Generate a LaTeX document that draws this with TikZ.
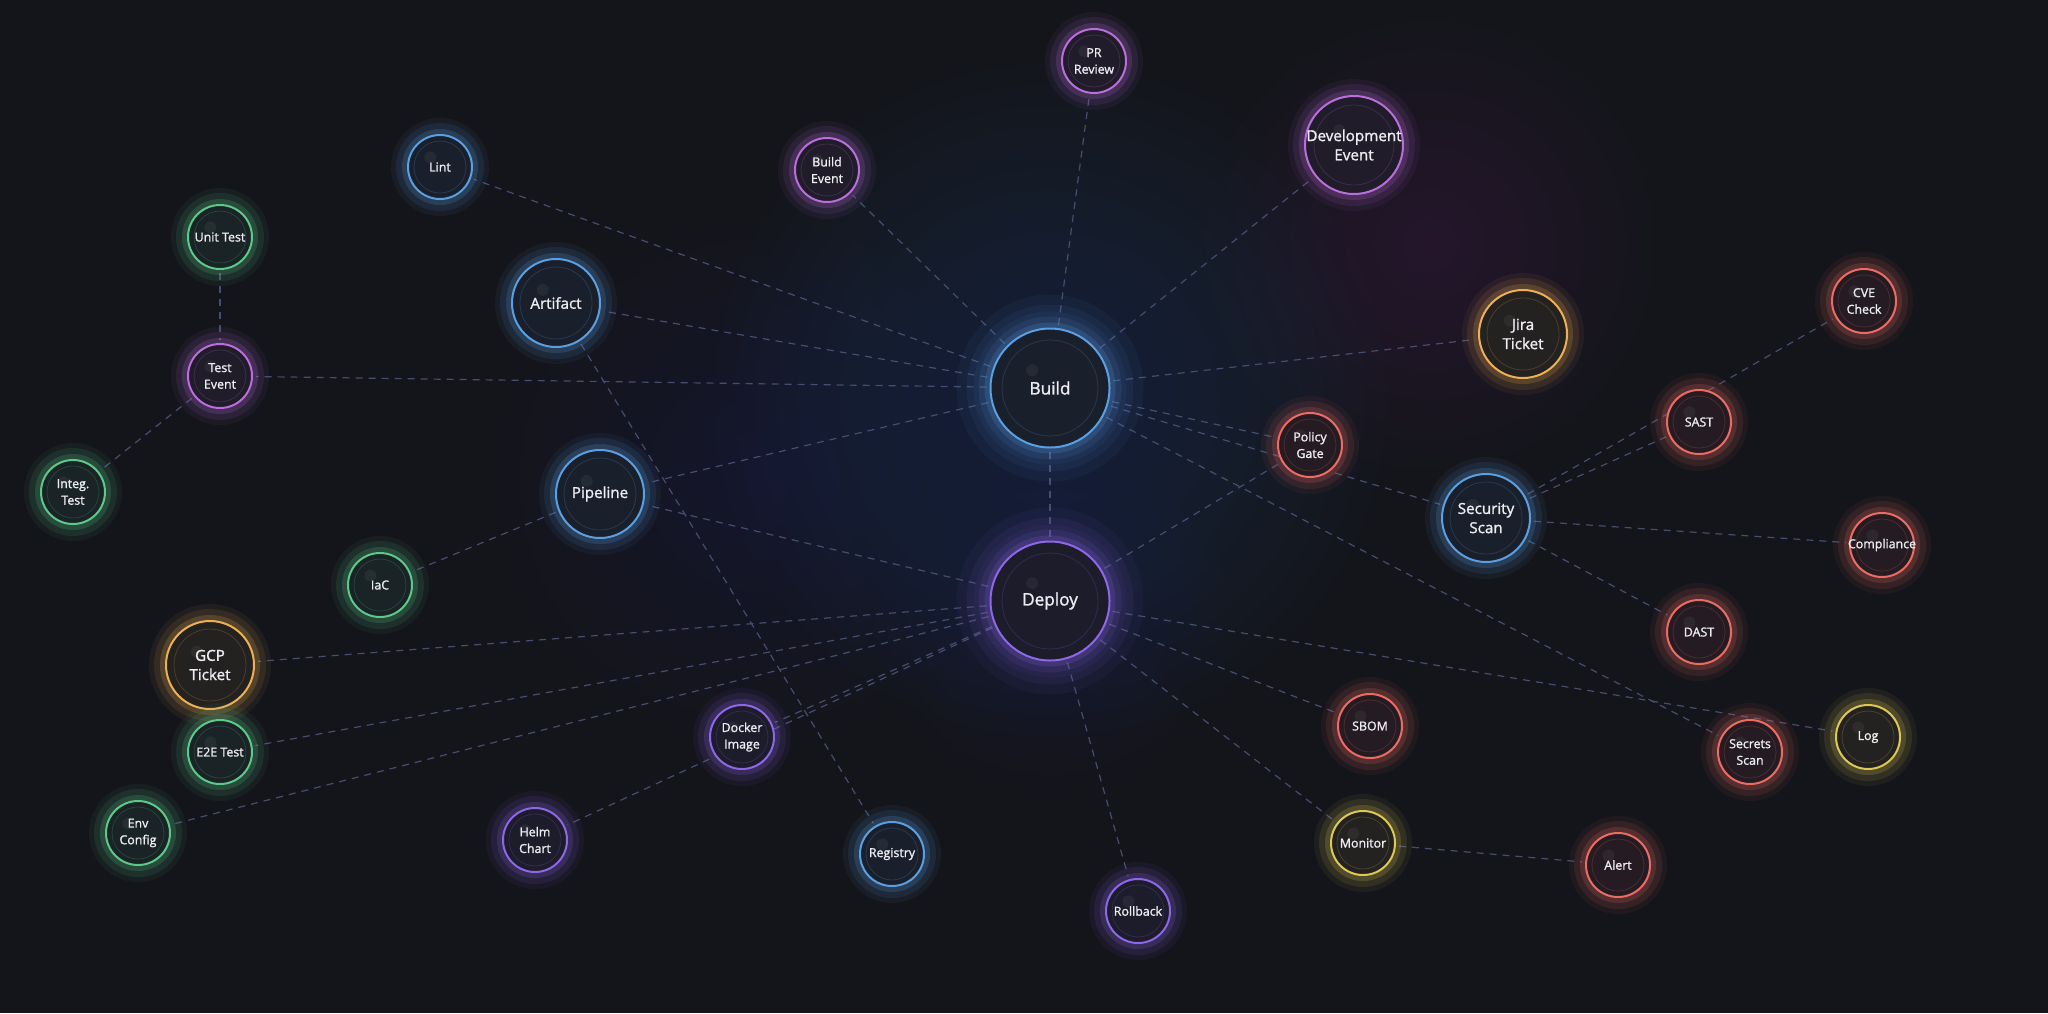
\documentclass[tikz,border=0pt]{standalone}
\usepackage{fontspec}
\setmainfont{Open Sans}
\newfontfamily\orbfont[FakeBold=1.4]{Open Sans}
\usetikzlibrary{calc}

\definecolor{bgc}{HTML}{14151B}
\definecolor{nodebg}{HTML}{15161D}
\definecolor{edgec}{HTML}{454D70}
\definecolor{txtc}{HTML}{ECECF2}
\definecolor{cblue}{HTML}{5B9FE3}
\definecolor{cevent}{HTML}{B96EDC}
\definecolor{cviolet}{HTML}{8E67E8}
\definecolor{cgreen}{HTML}{5CC98A}
\definecolor{corange}{HTML}{EDB052}
\definecolor{cred}{HTML}{EC6B63}
\definecolor{cyellow}{HTML}{DCC853}
\definecolor{hazeblue}{HTML}{2A5BB8}
\definecolor{hazeviolet}{HTML}{5636B0}
\definecolor{hazeplum}{HTML}{7A34A8}

\pgfdeclarelayer{bg}
\pgfdeclarelayer{edges}
\pgfsetlayers{bg,edges,main}

\tikzset{every picture/.style={line width=0.75pt}}
\tikzset{
  ring radius/.store in=\ringrad, ring radius=13pt,
  glow/.style={
    preaction={draw=#1, line width=17pt, opacity=.06},
    preaction={draw=#1, line width=12pt, opacity=.10},
    preaction={draw=#1, line width=6pt, opacity=.18}},
  hubglow/.style={
    preaction={draw=#1, line width=34pt, opacity=.05},
    preaction={draw=#1, line width=24pt, opacity=.07}},
  orb/.style={circle, draw=#1, line width=1pt, fill=#1!7!nodebg, glow=#1,
    text=txtc, align=center, inner sep=0pt, outer sep=2pt,
    path picture={
      \draw[#1, opacity=.2, line width=.4pt] (path picture bounding box.center) circle [radius=\ringrad];
      \fill[white, opacity=.05] ($(path picture bounding box.center)!.3!(path picture bounding box.north west)$) circle [radius=3pt];
    }},
  sm/.style={minimum size=32pt, ring radius=13pt, font=\orbfont\fontsize{6.2}{8.3}\selectfont},
  md/.style={minimum size=44pt, ring radius=18pt, font=\orbfont\fontsize{7.6}{9.6}\selectfont},
  lg/.style={minimum size=59.5pt, ring radius=24pt, font=\orbfont\fontsize{8.6}{10}\selectfont},
  link/.style={draw=edgec, line width=.6pt, dash pattern=on 3.5pt off 3pt},
}

\begin{document}
\begin{tikzpicture}[x=0.5pt,y=0.5pt,yscale=-1,xscale=1]
\useasboundingbox (0,0) rectangle (2048,1013);

%Background with soft glows
\begin{pgfonlayer}{bg}
\fill[bgc] (0,0) rectangle (2048,1013);
\foreach \k in {1,...,16} {
  \fill[hazeblue, opacity=.015] (1050,400) circle ({21*\k});
  \fill[hazeviolet, opacity=.007] (760,480) circle ({16*\k});
  \fill[hazeviolet, opacity=.008] (1050,610) circle ({11*\k});
  \fill[hazeplum, opacity=.010] (1430,245) circle ({14*\k});
  \fill[corange, opacity=.004] (320,690) circle ({13*\k});
  \fill[cred, opacity=.005] (1720,640) circle ({13*\k});
}
\end{pgfonlayer}

%Hubs
\node[orb=cblue, lg, hubglow=cblue] (build) at (1050,388) {Build};
\node[orb=cviolet, lg, hubglow=cviolet] (deploy) at (1050,601) {Deploy};

%Events and tickets
\node[orb=cevent, sm] (prreview) at (1094,61) {PR\\Review};
\node[orb=cevent, sm] (buildevt) at (827,170) {Build\\Event};
\node[orb=cevent, md, minimum size=49pt, ring radius=20pt] (devevt) at (1354,145) {\makebox[0pt]{Development}\\Event};
\node[orb=cevent, sm] (testevt) at (220,376) {Test\\Event};
\node[orb=corange, md] (gcp) at (210,665) {GCP\\Ticket};
\node[orb=corange, md] (jira) at (1523,334) {Jira\\Ticket};

%Build side
\node[orb=cblue, sm] (lint) at (440,167) {Lint};
\node[orb=cblue, md] (artifact) at (556,303) {Artifact};
\node[orb=cblue, md] (pipeline) at (600,494) {Pipeline};
\node[orb=cblue, sm] (registry) at (892,854) {Registry};
\node[orb=cgreen, sm] (unittest) at (220,237) {Unit Test};
\node[orb=cgreen, sm] (integ) at (73,492) {Integ.\\Test};
\node[orb=cgreen, sm] (iac) at (380,585) {IaC};
\node[orb=cgreen, sm] (e2e) at (220,752) {E2E Test};
\node[orb=cgreen, sm] (envcfg) at (138,833) {Env\\Config};

%Deploy side
\node[orb=cviolet, sm] (helm) at (535,840) {Helm\\Chart};
\node[orb=cviolet, sm] (docker) at (742,737) {Docker\\Image};
\node[orb=cviolet, sm] (rollback) at (1138,911) {Rollback};
\node[orb=cyellow, sm] (monitor) at (1363,843) {Monitor};
\node[orb=cyellow, sm] (log) at (1868,737) {Log};
\node[orb=cred, sm] (alert) at (1618,865) {Alert};
\node[orb=cred, sm] (sbom) at (1370,726) {SBOM};

%Security
\node[orb=cblue, md] (secscan) at (1486,518) {Security\\Scan};
\node[orb=cred, sm] (policy) at (1310,445) {Policy\\Gate};
\node[orb=cred, sm] (cve) at (1864,301) {CVE\\Check};
\node[orb=cred, sm] (sast) at (1699,422) {SAST};
\node[orb=cred, sm] (compliance) at (1882,545) {\makebox[0pt]{Compliance}};
\node[orb=cred, sm] (dast) at (1699,632) {DAST};
\node[orb=cred, sm] (secrets) at (1750,752) {Secrets\\Scan};

%Links
\begin{pgfonlayer}{edges}
\foreach \a in {prreview,buildevt,devevt,lint,artifact,testevt,pipeline,deploy,jira,policy,secscan,secrets}
  \draw[link] (build) -- (\a);
\foreach \a in {pipeline,gcp,e2e,envcfg,docker,helm,rollback,monitor,sbom,log,policy}
  \draw[link] (deploy) -- (\a);
\foreach \a in {sast,cve,compliance,dast}
  \draw[link] (secscan) -- (\a);
\draw[link] (unittest) -- (testevt);
\draw[link] (testevt) -- (integ);
\draw[link] (pipeline) -- (iac);
\draw[link] (artifact) -- (registry);
\draw[link] (monitor) -- (alert);
\end{pgfonlayer}

\end{tikzpicture}
\end{document}
